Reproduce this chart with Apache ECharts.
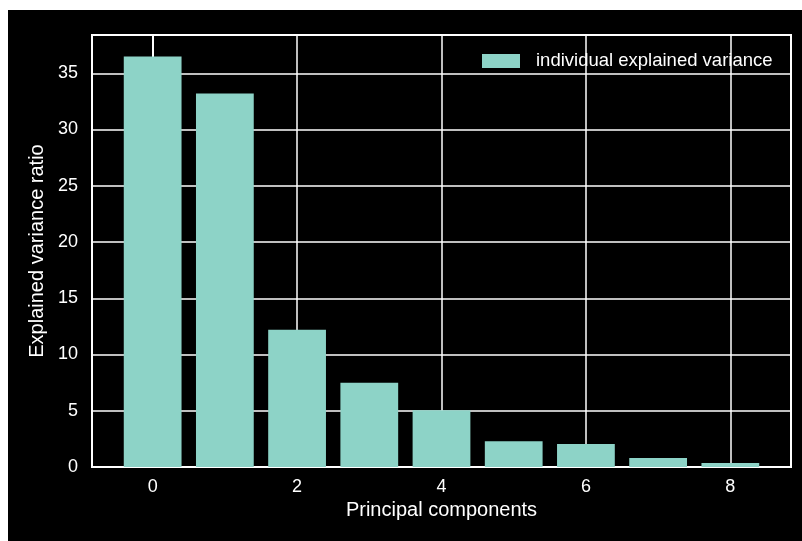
<!DOCTYPE html>
<html>
<head>
<meta charset="utf-8">
<script src="https://cdn.jsdelivr.net/npm/echarts@6/dist/echarts.min.js"></script>
<style>
  html, body { margin: 0; padding: 0; background: #ffffff; }
  #chart { position: absolute; left: 8px; top: 10px; width: 794px; height: 531px; background: #000000; }
</style>
</head>
<body>
<div id="chart"></div>
<script>
// Principal component indices and their explained variance (%)
const components = [0, 1, 2, 3, 4, 5, 6, 7, 8];
const explainedVariance = [36.5, 33.2, 12.2, 7.5, 5.05, 2.3, 2.05, 0.8, 0.35];
const xTicks = [0, 2, 4, 6, 8];
const yTicks = [0, 5, 10, 15, 20, 25, 30, 35];

const xMin = -0.84, xMax = 8.84;
const yMin = 0, yMax = 38.4;
const gridLeft = 84, gridRight = 11, gridTop = 25, gridBottom = 74;

const el = document.getElementById('chart');
const chart = echarts.init(el, null, { renderer: 'canvas' });
const plotWidth = el.clientWidth - gridLeft - gridRight;
const barWidth = 0.8 * plotWidth / (xMax - xMin);

const font = 'Liberation Sans, Arial, Helvetica, sans-serif';
const gridLine = { show: true, lineStyle: { color: '#ffffff', width: 1.5 } };

chart.setOption({
  backgroundColor: '#000000',
  animation: false,
  grid: {
    left: gridLeft, right: gridRight, top: gridTop, bottom: gridBottom,
    show: true, borderColor: '#ffffff', borderWidth: 2, backgroundColor: 'transparent'
  },
  legend: {
    show: true,
    left: 474, top: 41, padding: 0,
    itemWidth: 38, itemHeight: 14, itemGap: 0,
    icon: 'rect',
    data: ['individual explained variance'],
    textStyle: { color: '#ffffff', fontFamily: font, fontSize: 18.5, lineHeight: 20, padding: [0, 0, 0, 11] }
  },
  xAxis: {
    type: 'value', min: xMin, max: xMax,
    name: 'Principal components', nameLocation: 'middle', nameGap: 33,
    nameTextStyle: { color: '#ffffff', fontFamily: font, fontSize: 20 },
    axisLine: { show: true, lineStyle: { color: '#ffffff', width: 2 } },
    axisTick: { show: false, customValues: xTicks },
    axisLabel: { color: '#ffffff', fontFamily: font, fontSize: 18, margin: 11, customValues: xTicks },
    splitLine: gridLine
  },
  yAxis: {
    type: 'value', min: yMin, max: yMax,
    name: 'Explained variance ratio', nameLocation: 'middle', nameGap: 41,
    nameTextStyle: { color: '#ffffff', fontFamily: font, fontSize: 20 },
    axisLine: { show: true, lineStyle: { color: '#ffffff', width: 2 } },
    axisTick: { show: false, customValues: yTicks },
    axisLabel: { color: '#ffffff', fontFamily: font, fontSize: 18, margin: 14, customValues: yTicks },
    splitLine: gridLine
  },
  series: [{
    name: 'individual explained variance',
    type: 'bar',
    barWidth: barWidth,
    itemStyle: { color: '#8dd3c7' },
    data: components.map((c, i) => [c, explainedVariance[i]]),
    z: 3
  }]
});
</script>
</body>
</html>
